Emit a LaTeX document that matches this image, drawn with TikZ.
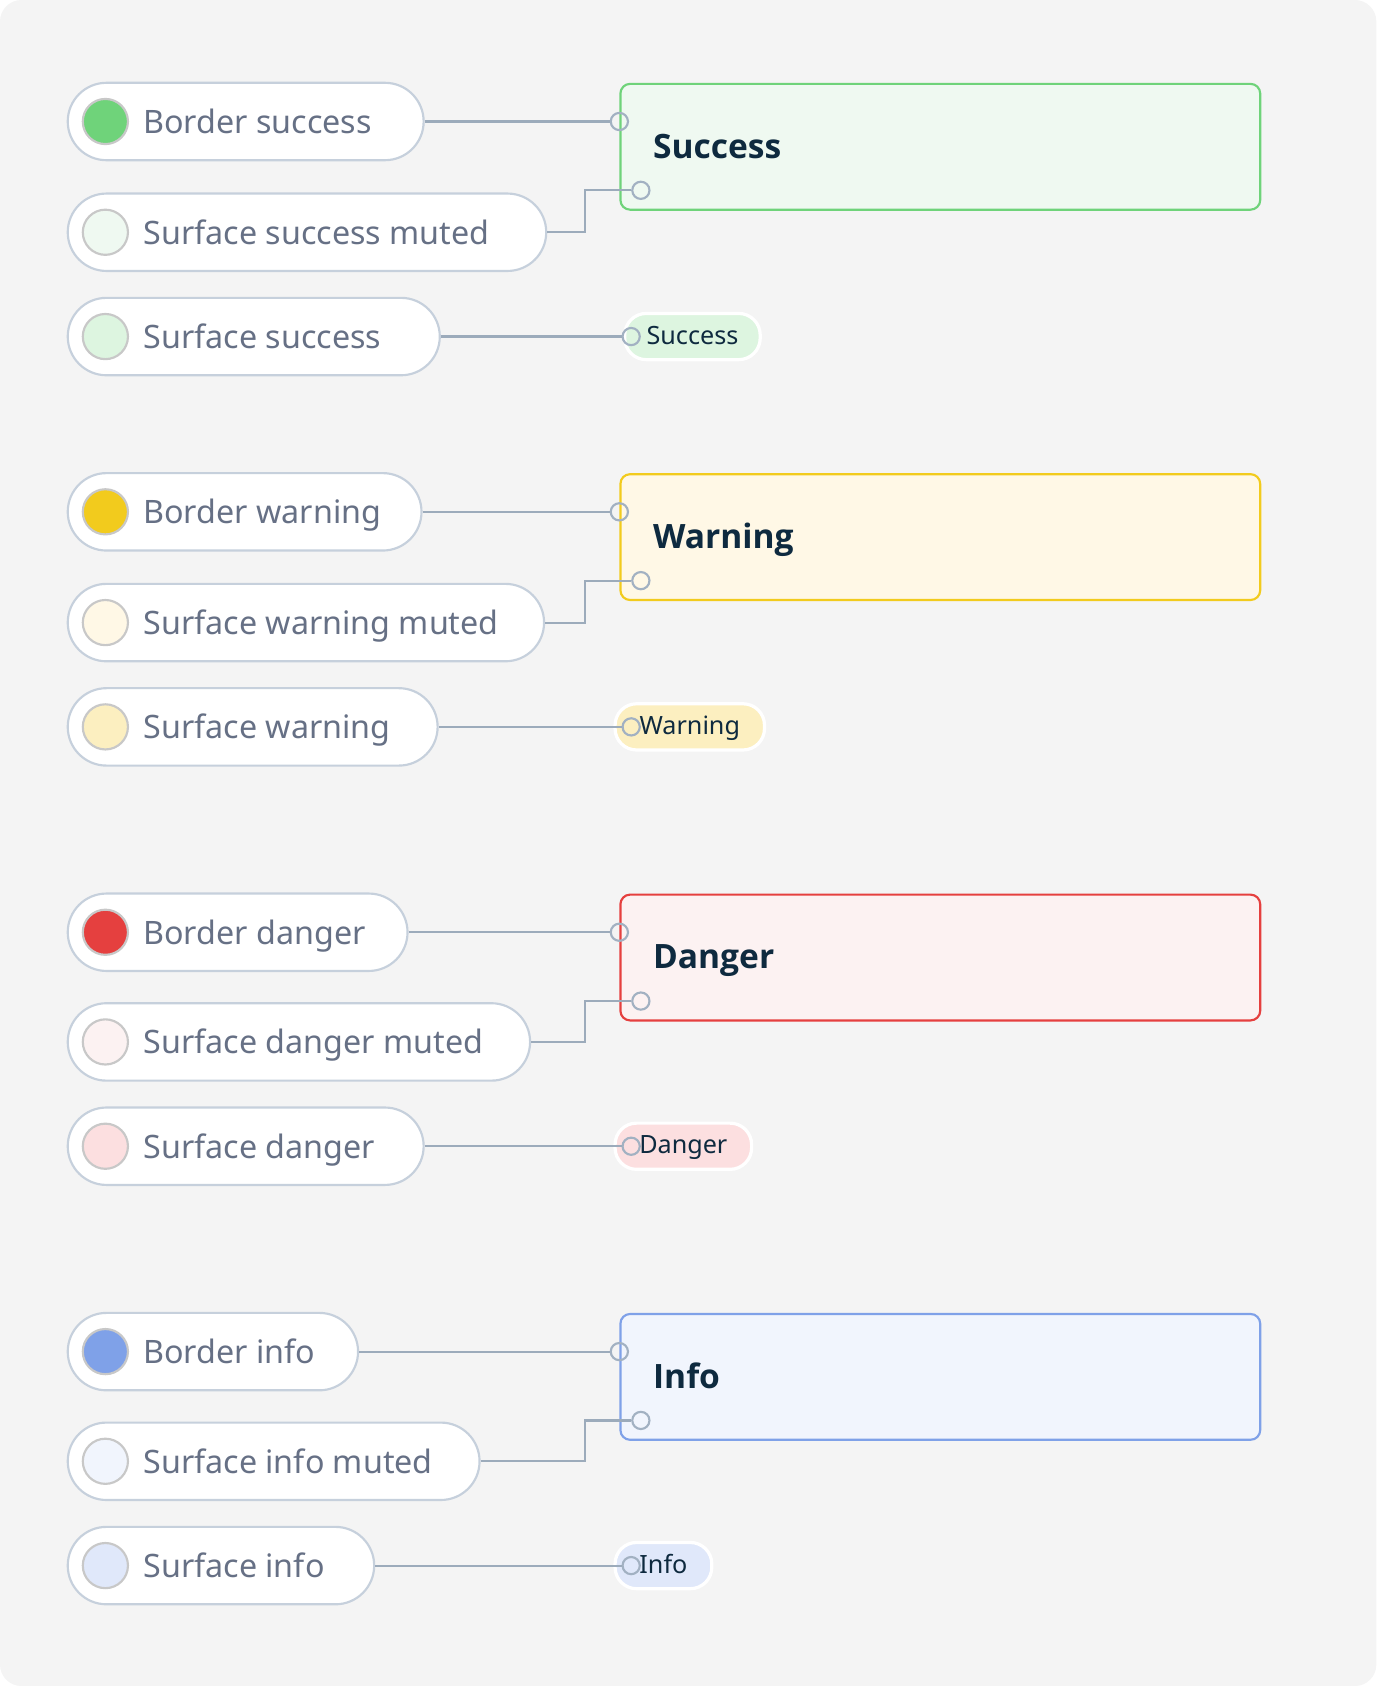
\documentclass[tikz,border=0pt]{standalone}
\usepackage{fontspec}
\setmainfont{Noto Sans}
\newfontfamily\headfont{Open Sans}
\usetikzlibrary{positioning,calc}
\definecolor{canvas}{HTML}{F4F4F4}
\definecolor{pillline}{HTML}{C6D0DC}
\definecolor{dotline}{HTML}{C8C8C8}
\definecolor{tagtext}{HTML}{667085}
\definecolor{navy}{HTML}{0E2A3F}
\definecolor{portline}{HTML}{A2B1C2}
\definecolor{wireline}{HTML}{9CABBB}
\definecolor{succB}{HTML}{6FD37A}
\definecolor{succM}{HTML}{EFF9F1}
\definecolor{succS}{HTML}{DDF5E0}
\definecolor{warnB}{HTML}{F2CB1D}
\definecolor{warnM}{HTML}{FFF8E6}
\definecolor{warnS}{HTML}{FCEFC0}
\definecolor{dangB}{HTML}{E5403F}
\definecolor{dangM}{HTML}{FCF2F2}
\definecolor{dangS}{HTML}{FCDFE0}
\definecolor{infoB}{HTML}{7FA1E8}
\definecolor{infoM}{HTML}{F1F5FD}
\definecolor{infoS}{HTML}{E0E8FA}

\begin{document}
\begin{tikzpicture}[x=0.5pt, y=-0.5pt,
	pill/.style={draw=pillline, line width=1pt, fill=white, rounded corners=18pt,
		minimum height=36pt, inner sep=0pt, anchor=west},
	dot/.style={circle, draw=dotline, line width=1pt, minimum size=21pt, inner sep=0pt},
	tag/.style={anchor=base west, inner sep=0pt, text=tagtext, font=\fontsize{15}{18}\selectfont},
	card/.style={draw, line width=1pt, rounded corners=4.5pt, minimum width=297.5pt,
		minimum height=58.5pt, anchor=north west, inner sep=0pt},
	title/.style={anchor=base west, inner sep=0pt, text=navy, font=\headfont\bfseries\fontsize{15.6}{18}\selectfont},
	port/.style={circle, draw=portline, line width=1pt, minimum size=8pt, inner sep=0pt},
	badge/.style={draw=white, line width=1.5pt, rounded corners=10pt, minimum height=21.5pt,
		inner sep=0pt, text height=9pt, text depth=2pt, text=navy, font=\fontsize{11.7}{14}\selectfont},
	wire/.style={draw=wireline, line width=1pt}]
	%% Canvas
	\fill [white] (0,0) rectangle (1280,1568);
	\fill [canvas, rounded corners=10pt] (0,0) rectangle (1280,1568);
	%% Success
	\node [pill, minimum width=165.5pt] at (62,113) (pill-bs) {};
	\node [dot, fill=succB] at (98,113) (dot-bs) {};
	\node [tag] at (133,124) (txt-bs) {Border success};
	\node [pill, minimum width=222.5pt] at (62,216) (pill-sm) {};
	\node [dot, fill=succM] at (98,216) (dot-sm) {};
	\node [tag] at (133,227) (txt-sm) {Surface success muted};
	\node [pill, minimum width=173pt] at (62,313) (pill-ss) {};
	\node [dot, fill=succS] at (98,313) (dot-ss) {};
	\node [tag] at (133,324) (txt-ss) {Surface success};
	\node [card, draw=succB, fill=succM] at (576,77) (card-s) {};
	\node [title] at (607,147) (title-s) {Success};
	\node [badge, fill=succS, minimum width=63pt] at (644,313) (badge-s) {Success};
	\node [port] at (576,113) (p1-s) {};
	\node [port] at (596,177) (p2-s) {};
	\node [port] at (587,313) (p3-s) {};
	\coordinate (bend-s) at (544,177);
	\draw [wire] (pill-bs.east) -- (p1-s.west);
	\draw [wire] (pill-sm.east) -| (bend-s) -- (p2-s.west);
	\draw [wire] (pill-ss.east) -- (p3-s.west);
	%% Warning
	\node [pill, minimum width=164.5pt] at (62,476) (pill-bw) {};
	\node [dot, fill=warnB] at (98,476) (dot-bw) {};
	\node [tag] at (133,487) (txt-bw) {Border warning};
	\node [pill, minimum width=221.5pt] at (62,579) (pill-wm) {};
	\node [dot, fill=warnM] at (98,579) (dot-wm) {};
	\node [tag] at (133,590) (txt-wm) {Surface warning muted};
	\node [pill, minimum width=172pt] at (62,676) (pill-sw) {};
	\node [dot, fill=warnS] at (98,676) (dot-sw) {};
	\node [tag] at (133,687) (txt-sw) {Surface warning};
	\node [card, draw=warnB, fill=warnM] at (576,440) (card-w) {};
	\node [title] at (607,510) (title-w) {Warning};
	\node [badge, fill=warnS, minimum width=69.5pt] at (641.5,676) (badge-w) {Warning};
	\node [port] at (576,476) (p1-w) {};
	\node [port] at (596,540) (p2-w) {};
	\node [port] at (587,676) (p3-w) {};
	\coordinate (bend-w) at (544,540);
	\draw [wire] (pill-bw.east) -- (p1-w.west);
	\draw [wire] (pill-wm.east) -| (bend-w) -- (p2-w.west);
	\draw [wire] (pill-sw.east) -- (p3-w.west);
	%% Danger
	\node [pill, minimum width=158pt] at (62,867) (pill-bd) {};
	\node [dot, fill=dangB] at (98,867) (dot-bd) {};
	\node [tag] at (133,878) (txt-bd) {Border danger};
	\node [pill, minimum width=215pt] at (62,969) (pill-dm) {};
	\node [dot, fill=dangM] at (98,969) (dot-dm) {};
	\node [tag] at (133,980) (txt-dm) {Surface danger muted};
	\node [pill, minimum width=165.5pt] at (62,1066) (pill-sd) {};
	\node [dot, fill=dangS] at (98,1066) (dot-sd) {};
	\node [tag] at (133,1077) (txt-sd) {Surface danger};
	\node [card, draw=dangB, fill=dangM] at (576,831) (card-d) {};
	\node [title] at (607,901) (title-d) {Danger};
	\node [badge, fill=dangS, minimum width=63.5pt] at (635.5,1066) (badge-d) {Danger};
	\node [port] at (576,867) (p1-d) {};
	\node [port] at (596,931) (p2-d) {};
	\node [port] at (587,1066) (p3-d) {};
	\coordinate (bend-d) at (544,931);
	\draw [wire] (pill-bd.east) -- (p1-d.west);
	\draw [wire] (pill-dm.east) -| (bend-d) -- (p2-d.west);
	\draw [wire] (pill-sd.east) -- (p3-d.west);
	%% Info
	\node [pill, minimum width=135pt] at (62,1257) (pill-bi) {};
	\node [dot, fill=infoB] at (98,1257) (dot-bi) {};
	\node [tag] at (133,1268) (txt-bi) {Border info};
	\node [pill, minimum width=191.5pt] at (62,1359) (pill-im) {};
	\node [dot, fill=infoM] at (98,1359) (dot-im) {};
	\node [tag] at (133,1370) (txt-im) {Surface info muted};
	\node [pill, minimum width=142.5pt] at (62,1456) (pill-si) {};
	\node [dot, fill=infoS] at (98,1456) (dot-si) {};
	\node [tag] at (133,1467) (txt-si) {Surface info};
	\node [card, draw=infoB, fill=infoM] at (576,1221) (card-i) {};
	\node [title] at (607,1291) (title-i) {Info};
	\node [badge, fill=infoS, minimum width=45pt] at (617,1456) (badge-i) {Info};
	\node [port] at (576,1257) (p1-i) {};
	\node [port] at (596,1321) (p2-i) {};
	\node [port] at (587,1456) (p3-i) {};
	\coordinate (bend-i) at (544,1321);
	\draw [wire] (pill-bi.east) -- (p1-i.west);
	\draw [wire] (pill-im.east) -| (bend-i) -- (p2-i.west);
	\draw [wire] (pill-si.east) -- (p3-i.west);
\end{tikzpicture}
\end{document}
